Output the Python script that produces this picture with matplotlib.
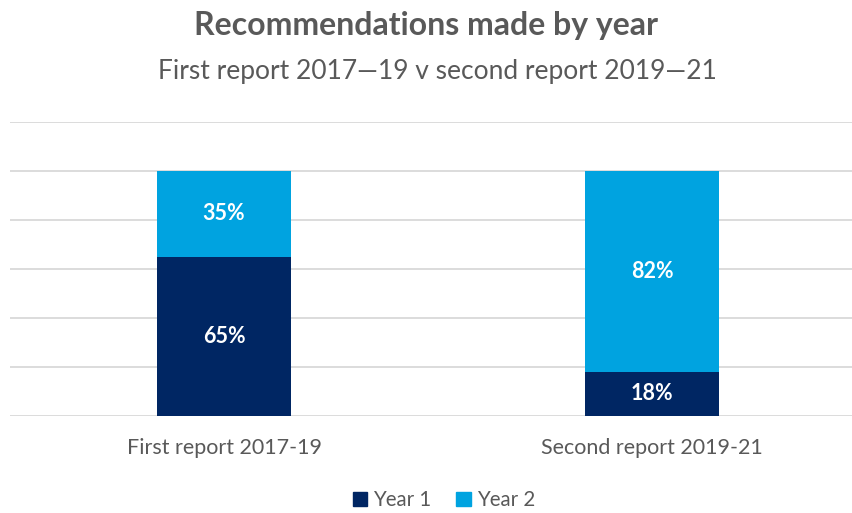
import matplotlib
matplotlib.use("Agg")
import matplotlib.pyplot as plt
from matplotlib.patches import Patch

categories = ["First report 2017-19", "Second report 2019-21"]
year1 = [65, 18]
year2 = [35, 82]
series_names = ["Year 1", "Year 2"]

plt.rcParams['font.family'] = ['Lato', 'DejaVu Sans']

c1 = "#002663"
c2 = "#00A3E0"
gray = "#595959"

fig = plt.figure(figsize=(8.53, 5.13), dpi=100)
ax = fig.add_axes([10/853, (513-416)/513, 842/853, (416-122)/513])
x = range(len(categories))
w = 0.313
ax.bar(x, year1, width=w, color=c1, zorder=3)
ax.bar(x, year2, width=w, bottom=year1, color=c2, zorder=3)
for i in x:
    ax.text(i, year1[i]/2, f"{year1[i]}%", ha="center", va="center", color="white",
            fontsize=15.5, fontweight="bold", zorder=4)
    ax.text(i, year1[i] + year2[i]/2, f"{year2[i]}%", ha="center", va="center", color="white",
            fontsize=15.5, fontweight="bold", zorder=4)
ax.set_ylim(0, 120)
ax.set_xlim(-0.5, 1.467)
ax.set_yticks(range(0, 121, 20))
ax.set_yticklabels([])
ax.tick_params(axis="y", length=0)
ax.tick_params(axis="x", length=0, pad=16, labelsize=15.5, labelcolor=gray)
ax.set_xticks(list(x))
ax.set_xticklabels(categories)
ax.grid(axis="y", color="#D9D9D9", linewidth=1.3, zorder=0)
for s in ax.spines.values():
    s.set_visible(False)

fig.text(0.5, 1-25/513, "Recommendations made by year", ha="center", va="center",
         fontsize=23, fontweight="bold", color=gray)
fig.text(437/853, 1-72/513, "First report 2017\u201419 v second report 2019\u201421", ha="center", va="center",
         fontsize=19, color=gray)

handles = [Patch(color=c1, label=series_names[0]), Patch(color=c2, label=series_names[1])]
fig.legend(handles=handles, loc="center", bbox_to_anchor=(444/853, 1-500/513), ncol=2, frameon=False,
           fontsize=14.8, labelcolor=gray, handlelength=0.7, handleheight=0.7, handletextpad=0.3,
           columnspacing=1.2)

fig.savefig("out.png", dpi=100)
